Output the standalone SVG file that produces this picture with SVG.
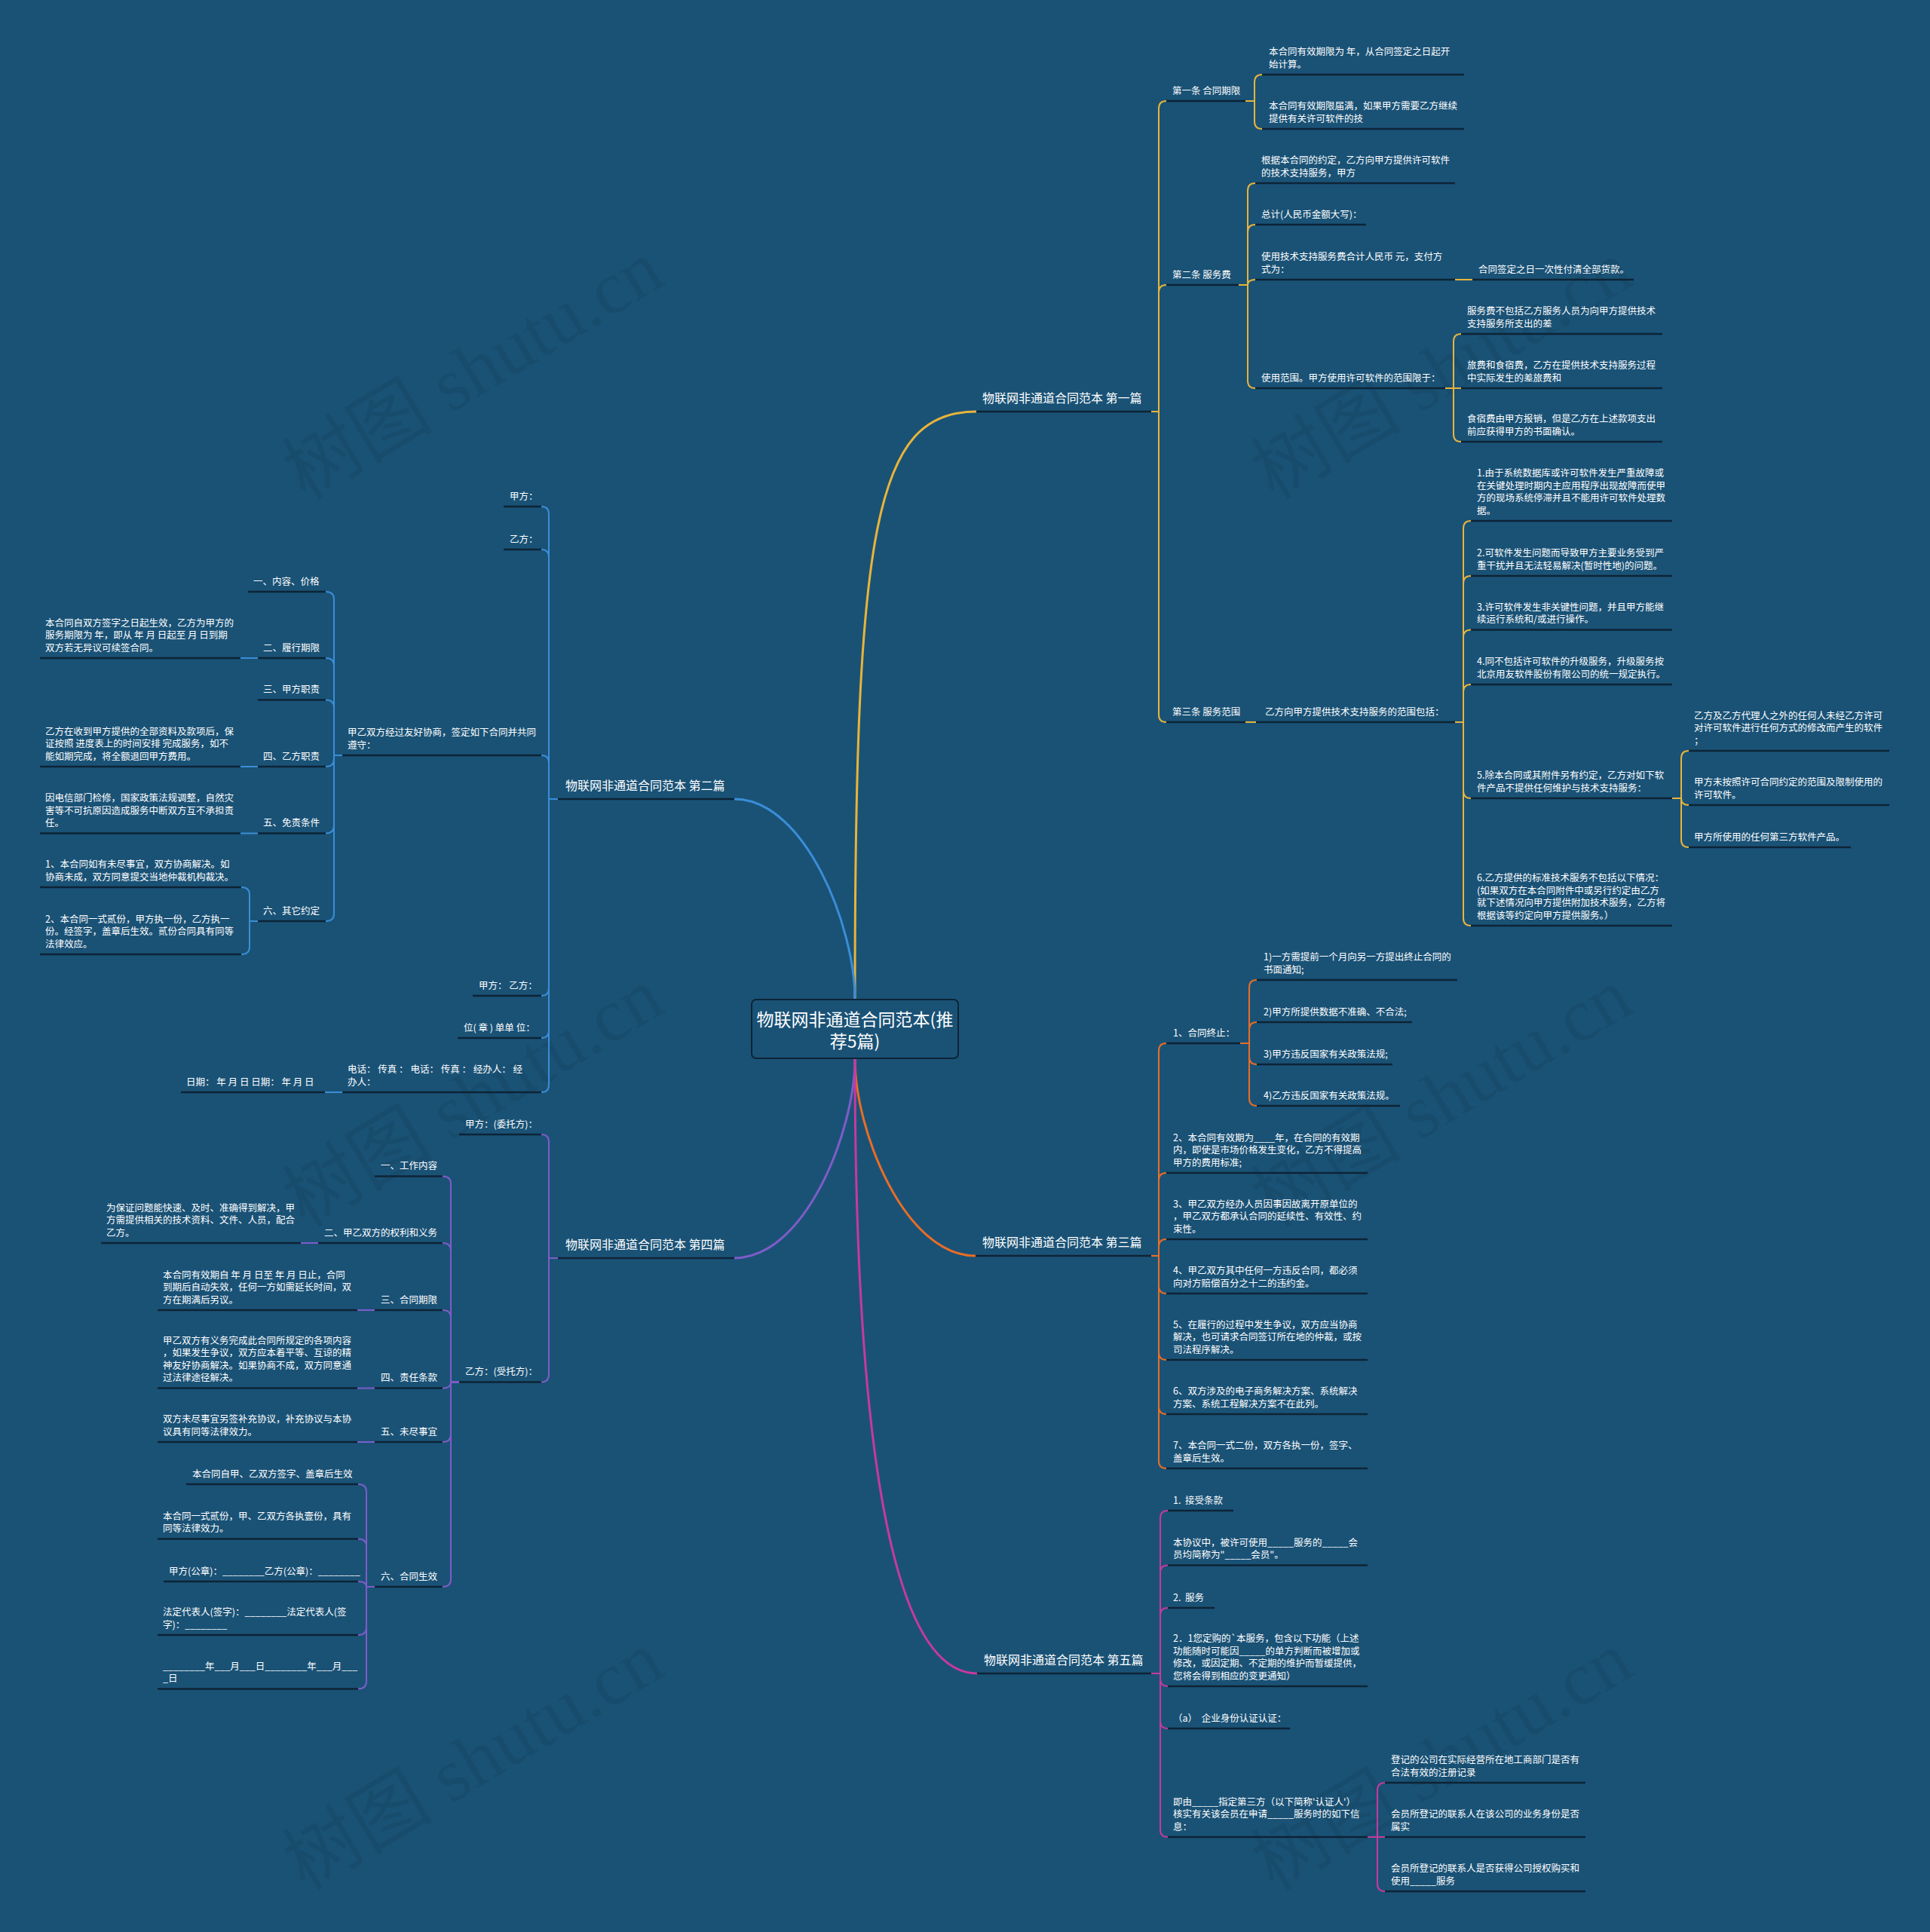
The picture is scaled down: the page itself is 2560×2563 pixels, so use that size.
<svg xmlns="http://www.w3.org/2000/svg" width="2560" height="2563" viewBox="0 0 2560 2563">
<style>
text{font-family:"Noto Sans CJK SC","Noto Sans",sans-serif;fill:#ffffff}
.n{font-size:12.5px}
.h{font-size:16px}
.c{font-size:23px}
.wm{font-family:"Liberation Serif","Noto Sans CJK SC",serif;font-size:100px;fill:#000;fill-opacity:0.07}
.u{stroke:#0d2436;stroke-width:2.5;fill:none}
.Y{stroke:#e8b43a;stroke-width:2;fill:none}
.B{stroke:#3a8ed8;stroke-width:2;fill:none}
.O{stroke:#ea6d26;stroke-width:2;fill:none}
.P{stroke:#7f5cc8;stroke-width:2;fill:none}
.M{stroke:#c8399f;stroke-width:2;fill:none}
.main{stroke-width:3}
</style>
<rect width="2560" height="2563" fill="#1a5276"/>
<g id="watermarks">
<text class="wm" text-anchor="middle" transform="translate(645,520) rotate(-31)">树图 shutu.cn</text>
<text class="wm" text-anchor="middle" transform="translate(1930,520) rotate(-31)">树图 shutu.cn</text>
<text class="wm" text-anchor="middle" transform="translate(645,1485) rotate(-31)">树图 shutu.cn</text>
<text class="wm" text-anchor="middle" transform="translate(1930,1485) rotate(-31)">树图 shutu.cn</text>
<text class="wm" text-anchor="middle" transform="translate(645,2365) rotate(-31)">树图 shutu.cn</text>
<text class="wm" text-anchor="middle" transform="translate(1930,2365) rotate(-31)">树图 shutu.cn</text>
</g>
<g id="connectors">
<path class="Y main" d="M1134,1325 C1134,700 1160,546 1295,546"/>
<path class="B main" d="M1134,1325 C1134,1230 1068,1060 974,1060"/>
<path class="O main" d="M1134,1405 C1134,1500 1200,1666 1294,1666"/>
<path class="P main" d="M1134,1405 C1134,1500 1068,1669 974,1669"/>
<path class="M main" d="M1134,1405 C1134,1900 1180,2220 1296,2220"/>
<path class="Y" d="M1527,546 H1537 V144 Q1537,134 1547,134"/>
<path class="Y" d="M1527,546 H1537 V388 Q1537,378 1547,378"/>
<path class="Y" d="M1527,546 H1537 V948 Q1537,958 1547,958"/>
<path class="Y" d="M1652,134 H1664 V109 Q1664,99 1674,99"/>
<path class="Y" d="M1652,134 H1664 V161 Q1664,171 1674,171"/>
<path class="Y" d="M1643,378 H1655 V253 Q1655,243 1665,243"/>
<path class="Y" d="M1643,378 H1655 V308 Q1655,298 1665,298"/>
<path class="Y" d="M1643,378 H1655 Q1655,371 1665,371"/>
<path class="Y" d="M1643,378 H1655 V505 Q1655,515 1665,515"/>
<path class="Y" d="M1930,371 H1953"/>
<path class="Y" d="M1917,515 H1928 V453 Q1928,443 1938,443"/>
<path class="Y" d="M1917,515 H1938"/>
<path class="Y" d="M1917,515 H1928 V576 Q1928,586 1938,586"/>
<path class="Y" d="M1652,958 H1666"/>
<path class="Y" d="M1930,958 H1941 V701 Q1941,691 1951,691"/>
<path class="Y" d="M1930,958 H1941 V774 Q1941,764 1951,764"/>
<path class="Y" d="M1930,958 H1941 V845.5 Q1941,835.5 1951,835.5"/>
<path class="Y" d="M1930,958 H1941 V918 Q1941,908 1951,908"/>
<path class="Y" d="M1930,958 H1941 V1049 Q1941,1059 1951,1059"/>
<path class="Y" d="M1930,958 H1941 V1218 Q1941,1228 1951,1228"/>
<path class="Y" d="M2218,1059 H2230 V1006 Q2230,996 2240,996"/>
<path class="Y" d="M2218,1059 H2230 Q2230,1068 2240,1068"/>
<path class="Y" d="M2218,1059 H2230 V1114 Q2230,1124 2240,1124"/>
<path class="O" d="M1527,1666 H1537 V1394 Q1537,1384 1547,1384"/>
<path class="O" d="M1527,1666 H1537 V1566 Q1537,1556 1547,1556"/>
<path class="O" d="M1527,1666 H1537 V1654 Q1537,1644 1547,1644"/>
<path class="O" d="M1527,1666 H1537 V1706 Q1537,1716 1547,1716"/>
<path class="O" d="M1527,1666 H1537 V1794 Q1537,1804 1547,1804"/>
<path class="O" d="M1527,1666 H1537 V1866 Q1537,1876 1547,1876"/>
<path class="O" d="M1527,1666 H1537 V1938 Q1537,1948 1547,1948"/>
<path class="O" d="M1645,1384 H1657 V1310 Q1657,1300 1667,1300"/>
<path class="O" d="M1645,1384 H1657 V1366 Q1657,1356 1667,1356"/>
<path class="O" d="M1645,1384 H1657 V1402 Q1657,1412 1667,1412"/>
<path class="O" d="M1645,1384 H1657 V1457 Q1657,1467 1667,1467"/>
<path class="M" d="M1527,2220 H1539 V2014 Q1539,2004 1549,2004"/>
<path class="M" d="M1527,2220 H1539 V2086.5 Q1539,2076.5 1549,2076.5"/>
<path class="M" d="M1527,2220 H1539 V2143 Q1539,2133 1549,2133"/>
<path class="M" d="M1527,2220 H1539 V2227 Q1539,2237 1549,2237"/>
<path class="M" d="M1527,2220 H1539 V2283 Q1539,2293 1549,2293"/>
<path class="M" d="M1527,2220 H1539 V2427 Q1539,2437 1549,2437"/>
<path class="M" d="M1814,2437 H1827 V2375 Q1827,2365 1837,2365"/>
<path class="M" d="M1814,2437 H1837"/>
<path class="M" d="M1814,2437 H1827 V2499 Q1827,2509 1837,2509"/>
<path class="B" d="M740,1060 H728 V682 Q728,672 718,672"/>
<path class="B" d="M740,1060 H728 V739 Q728,729 718,729"/>
<path class="B" d="M740,1060 H728 V1012 Q728,1002 718,1002"/>
<path class="B" d="M740,1060 H728 V1311 Q728,1321 718,1321"/>
<path class="B" d="M740,1060 H728 V1367 Q728,1377 718,1377"/>
<path class="B" d="M740,1060 H728 V1439 Q728,1449 718,1449"/>
<path class="B" d="M454,1002 H443 V795 Q443,785 432,785"/>
<path class="B" d="M454,1002 H443 V883 Q443,873 432,873"/>
<path class="B" d="M454,1002 H443 V938.5 Q443,928.5 432,928.5"/>
<path class="B" d="M454,1002 H443 V1007 Q443,1017 432,1017"/>
<path class="B" d="M454,1002 H443 V1095.5 Q443,1105.5 432,1105.5"/>
<path class="B" d="M454,1002 H443 V1212 Q443,1222 432,1222"/>
<path class="B" d="M342,873 H319"/>
<path class="B" d="M342,1017 H319"/>
<path class="B" d="M342,1105.5 H319"/>
<path class="B" d="M342,1222 H331 V1187 Q331,1177 320,1177"/>
<path class="B" d="M342,1222 H331 V1256 Q331,1266 320,1266"/>
<path class="B" d="M454,1449 H431"/>
<path class="P" d="M740,1669 H728 V1515 Q728,1505 718,1505"/>
<path class="P" d="M740,1669 H728 V1823.5 Q728,1833.5 718,1833.5"/>
<path class="P" d="M609,1833.5 H598 V1570.5 Q598,1560.5 587,1560.5"/>
<path class="P" d="M609,1833.5 H598 V1659 Q598,1649 587,1649"/>
<path class="P" d="M609,1833.5 H598 V1748 Q598,1738 587,1738"/>
<path class="P" d="M609,1833.5 H598 Q598,1841.6 587,1841.6"/>
<path class="P" d="M609,1833.5 H598 V1903 Q598,1913 587,1913"/>
<path class="P" d="M609,1833.5 H598 V2095 Q598,2105 587,2105"/>
<path class="P" d="M422,1649 H399"/>
<path class="P" d="M497,1738 H474"/>
<path class="P" d="M497,1841.6 H474"/>
<path class="P" d="M497,1913 H474"/>
<path class="P" d="M497,2105 H486 V1979 Q486,1969 475,1969"/>
<path class="P" d="M497,2105 H486 V2051.6 Q486,2041.6 475,2041.6"/>
<path class="P" d="M497,2105 H486 Q486,2098 475,2098"/>
<path class="P" d="M497,2105 H486 V2159 Q486,2169 475,2169"/>
<path class="P" d="M497,2105 H486 V2230.6 Q486,2240.6 475,2240.6"/>
</g>
<g id="root">
<rect x="997" y="1326" width="274" height="78" rx="6" fill="#1a5276" stroke="#0d2436" stroke-width="2"/>
<text class="c" text-anchor="middle"><tspan x="1134" y="1361">物联网非通道合同范本(推</tspan><tspan x="1134" y="1390">荐5篇)</tspan></text>
</g>
<g id="b1"><path class="u" d="M1295,546 H1527"/><text class="h" x="1303" y="534">物联网非通道合同范本 第一篇</text></g>
<g id="b1-1"><path class="u" d="M1547,134 H1652"/><text class="n" x="1555" y="124.5">第一条 合同期限</text></g>
<g id="b1-1-1"><path class="u" d="M1674,99 H1942"/><text class="n"><tspan x="1683" y="73.1">本合同有效期限为 年，从合同签定之日起开</tspan><tspan x="1683" dy="16.4">始计算。</tspan></text></g>
<g id="b1-1-2"><path class="u" d="M1674,171 H1942"/><text class="n"><tspan x="1683" y="145.1">本合同有效期限届满，如果甲方需要乙方继续</tspan><tspan x="1683" dy="16.4">提供有关许可软件的技</tspan></text></g>
<g id="b1-2"><path class="u" d="M1547,378 H1643"/><text class="n" x="1555" y="368.5">第二条 服务费</text></g>
<g id="b1-2-1"><path class="u" d="M1665,243 H1930"/><text class="n"><tspan x="1673" y="217.1">根据本合同的约定，乙方向甲方提供许可软件</tspan><tspan x="1673" dy="16.4">的技术支持服务，甲方</tspan></text></g>
<g id="b1-2-2"><path class="u" d="M1665,298 H1812"/><text class="n" x="1673" y="288.5">总计(人民币金额大写)：</text></g>
<g id="b1-2-3"><path class="u" d="M1665,371 H1930"/><text class="n"><tspan x="1673" y="345.1">使用技术支持服务费合计人民币 元，支付方</tspan><tspan x="1673" dy="16.4">式为：</tspan></text></g>
<g id="b1-2-3-1"><path class="u" d="M1953,371 H2167"/><text class="n" x="1961" y="361.5">合同签定之日一次性付清全部货款。</text></g>
<g id="b1-2-4"><path class="u" d="M1665,515 H1917"/><text class="n" x="1673" y="505.5">使用范围。甲方使用许可软件的范围限于：</text></g>
<g id="b1-2-4-1"><path class="u" d="M1938,443 H2205"/><text class="n"><tspan x="1946" y="417.1">服务费不包括乙方服务人员为向甲方提供技术</tspan><tspan x="1946" dy="16.4">支持服务所支出的差</tspan></text></g>
<g id="b1-2-4-2"><path class="u" d="M1938,515 H2205"/><text class="n"><tspan x="1946" y="489.1">旅费和食宿费，乙方在提供技术支持服务过程</tspan><tspan x="1946" dy="16.4">中实际发生的差旅费和</tspan></text></g>
<g id="b1-2-4-3"><path class="u" d="M1938,586 H2205"/><text class="n"><tspan x="1946" y="560.1">食宿费由甲方报销，但是乙方在上述款项支出</tspan><tspan x="1946" dy="16.4">前应获得甲方的书面确认。</tspan></text></g>
<g id="b1-3"><path class="u" d="M1547,958 H1652"/><text class="n" x="1555" y="948.5">第三条 服务范围</text></g>
<g id="b1-3-1"><path class="u" d="M1666,958 H1930"/><text class="n" x="1678" y="948.5">乙方向甲方提供技术支持服务的范围包括：</text></g>
<g id="b1-3-1-1"><path class="u" d="M1951,691 H2218"/><text class="n"><tspan x="1959" y="632.3">1.由于系统数据库或许可软件发生严重故障或</tspan><tspan x="1959" dy="16.4">在关键处理时期内主应用程序出现故障而使甲</tspan><tspan x="1959" dy="16.4">方的现场系统停滞并且不能用许可软件处理数</tspan><tspan x="1959" dy="16.4">据。</tspan></text></g>
<g id="b1-3-1-2"><path class="u" d="M1951,764 H2218"/><text class="n"><tspan x="1959" y="738.1">2.可软件发生问题而导致甲方主要业务受到严</tspan><tspan x="1959" dy="16.4">重干扰并且无法轻易解决(暂时性地)的问题。</tspan></text></g>
<g id="b1-3-1-3"><path class="u" d="M1951,835.5 H2218"/><text class="n"><tspan x="1959" y="809.6">3.许可软件发生非关键性问题，并且甲方能继</tspan><tspan x="1959" dy="16.4">续运行系统和/或进行操作。</tspan></text></g>
<g id="b1-3-1-4"><path class="u" d="M1951,908 H2218"/><text class="n"><tspan x="1959" y="882.1">4.同不包括许可软件的升级服务，升级服务按</tspan><tspan x="1959" dy="16.4">北京用友软件股份有限公司的统一规定执行。</tspan></text></g>
<g id="b1-3-1-5"><path class="u" d="M1951,1059 H2218"/><text class="n"><tspan x="1959" y="1033.1">5.除本合同或其附件另有约定，乙方对如下软</tspan><tspan x="1959" dy="16.4">件产品不提供任何维护与技术支持服务：</tspan></text></g>
<g id="b1-3-1-5-1"><path class="u" d="M2240,996 H2506"/><text class="n"><tspan x="2247" y="953.7">乙方及乙方代理人之外的任何人未经乙方许可</tspan><tspan x="2247" dy="16.4">对许可软件进行任何方式的修改而产生的软件</tspan><tspan x="2247" dy="16.4">；</tspan></text></g>
<g id="b1-3-1-5-2"><path class="u" d="M2240,1068 H2506"/><text class="n"><tspan x="2247" y="1042.1">甲方未按照许可合同约定的范围及限制使用的</tspan><tspan x="2247" dy="16.4">许可软件。</tspan></text></g>
<g id="b1-3-1-5-3"><path class="u" d="M2240,1124 H2455"/><text class="n" x="2247" y="1114.5">甲方所使用的任何第三方软件产品。</text></g>
<g id="b1-3-1-6"><path class="u" d="M1951,1228 H2218"/><text class="n"><tspan x="1959" y="1169.3">6.乙方提供的标准技术服务不包括以下情况：</tspan><tspan x="1959" dy="16.4">(如果双方在本合同附件中或另行约定由乙方</tspan><tspan x="1959" dy="16.4">就下述情况向甲方提供附加技术服务，乙方将</tspan><tspan x="1959" dy="16.4">根据该等约定向甲方提供服务。）</tspan></text></g>
<g id="b3"><path class="u" d="M1294,1666 H1527"/><text class="h" x="1303" y="1654">物联网非通道合同范本 第三篇</text></g>
<g id="b3-1"><path class="u" d="M1547,1384 H1645"/><text class="n" x="1556" y="1374.5">1、合同终止：</text></g>
<g id="b3-1-1"><path class="u" d="M1667,1300 H1933"/><text class="n"><tspan x="1676" y="1274.1">1)一方需提前一个月向另一方提出终止合同的</tspan><tspan x="1676" dy="16.4">书面通知;</tspan></text></g>
<g id="b3-1-2"><path class="u" d="M1667,1356 H1873"/><text class="n" x="1676" y="1346.5">2)甲方所提供数据不准确、不合法;</text></g>
<g id="b3-1-3"><path class="u" d="M1667,1412 H1847"/><text class="n" x="1676" y="1402.5">3)甲方违反国家有关政策法规;</text></g>
<g id="b3-1-4"><path class="u" d="M1667,1467 H1857"/><text class="n" x="1676" y="1457.5">4)乙方违反国家有关政策法规。</text></g>
<g id="b3-2"><path class="u" d="M1547,1556 H1814"/><text class="n"><tspan x="1556" y="1513.7">2、本合同有效期为____年，在合同的有效期</tspan><tspan x="1556" dy="16.4">内，即使是市场价格发生变化，乙方不得提高</tspan><tspan x="1556" dy="16.4">甲方的费用标准;</tspan></text></g>
<g id="b3-3"><path class="u" d="M1547,1644 H1814"/><text class="n"><tspan x="1556" y="1601.7">3、甲乙双方经办人员因事因故离开原单位的</tspan><tspan x="1556" dy="16.4">，甲乙双方都承认合同的延续性、有效性、约</tspan><tspan x="1556" dy="16.4">束性。</tspan></text></g>
<g id="b3-4"><path class="u" d="M1547,1716 H1814"/><text class="n"><tspan x="1556" y="1690.1">4、甲乙双方其中任何一方违反合同，都必须</tspan><tspan x="1556" dy="16.4">向对方赔偿百分之十二的违约金。</tspan></text></g>
<g id="b3-5"><path class="u" d="M1547,1804 H1814"/><text class="n"><tspan x="1556" y="1761.7">5、在履行的过程中发生争议，双方应当协商</tspan><tspan x="1556" dy="16.4">解决，也可请求合同签订所在地的仲裁，或按</tspan><tspan x="1556" dy="16.4">司法程序解决。</tspan></text></g>
<g id="b3-6"><path class="u" d="M1547,1876 H1814"/><text class="n"><tspan x="1556" y="1850.1">6、双方涉及的电子商务解决方案、系统解决</tspan><tspan x="1556" dy="16.4">方案、系统工程解决方案不在此列。</tspan></text></g>
<g id="b3-7"><path class="u" d="M1547,1948 H1814"/><text class="n"><tspan x="1556" y="1922.1">7、本合同一式二份，双方各执一份，签字、</tspan><tspan x="1556" dy="16.4">盖章后生效。</tspan></text></g>
<g id="b5"><path class="u" d="M1296,2220 H1527"/><text class="h" x="1305" y="2208">物联网非通道合同范本 第五篇</text></g>
<g id="b5-1"><path class="u" d="M1549,2004 H1636"/><text class="n" x="1556" y="1994.5" xml:space="preserve">1.  接受条款</text></g>
<g id="b5-2"><path class="u" d="M1549,2076.5 H1814"/><text class="n"><tspan x="1556" y="2050.6">本协议中，被许可使用_____服务的_____会</tspan><tspan x="1556" dy="16.4">员均简称为"_____会员"。</tspan></text></g>
<g id="b5-3"><path class="u" d="M1549,2133 H1611"/><text class="n" x="1556" y="2123.5" xml:space="preserve">2.  服务</text></g>
<g id="b5-4"><path class="u" d="M1549,2237 H1814"/><text class="n"><tspan x="1556" y="2178.3">2．1您定购的`本服务，包含以下功能（上述</tspan><tspan x="1556" dy="16.4">功能随时可能因_____的单方判断而被增加或</tspan><tspan x="1556" dy="16.4">修改，或因定期、不定期的维护而暂缓提供，</tspan><tspan x="1556" dy="16.4">您将会得到相应的变更通知）</tspan></text></g>
<g id="b5-5"><path class="u" d="M1549,2293 H1711"/><text class="n" x="1556" y="2283.5" xml:space="preserve">（a）  企业身份认证认证：</text></g>
<g id="b5-6"><path class="u" d="M1549,2437 H1814"/><text class="n"><tspan x="1556" y="2394.7">即由_____指定第三方（以下简称'认证人'）</tspan><tspan x="1556" dy="16.4">核实有关该会员在申请_____服务时的如下信</tspan><tspan x="1556" dy="16.4">息：</tspan></text></g>
<g id="b5-6-1"><path class="u" d="M1837,2365 H2103"/><text class="n"><tspan x="1845" y="2339.1">登记的公司在实际经营所在地工商部门是否有</tspan><tspan x="1845" dy="16.4">合法有效的注册记录</tspan></text></g>
<g id="b5-6-2"><path class="u" d="M1837,2437 H2103"/><text class="n"><tspan x="1845" y="2411.1">会员所登记的联系人在该公司的业务身份是否</tspan><tspan x="1845" dy="16.4">属实</tspan></text></g>
<g id="b5-6-3"><path class="u" d="M1837,2509 H2103"/><text class="n"><tspan x="1845" y="2483.1">会员所登记的联系人是否获得公司授权购买和</tspan><tspan x="1845" dy="16.4">使用_____服务</tspan></text></g>
<g id="b2"><path class="u" d="M740,1060 H974"/><text class="h" x="750" y="1048">物联网非通道合同范本 第二篇</text></g>
<g id="b2-1"><path class="u" d="M668,672 H718"/><text class="n" x="676" y="662.5">甲方：</text></g>
<g id="b2-2"><path class="u" d="M668,729 H718"/><text class="n" x="676" y="719.5">乙方：</text></g>
<g id="b2-3"><path class="u" d="M454,1002 H718"/><text class="n"><tspan x="461" y="976.1">甲乙双方经过友好协商，签定如下合同并共同</tspan><tspan x="461" dy="16.4">遵守：</tspan></text></g>
<g id="b2-3-1"><path class="u" d="M329,785 H432"/><text class="n" x="336" y="775.5">一、内容、价格</text></g>
<g id="b2-3-2"><path class="u" d="M342,873 H432"/><text class="n" x="349" y="863.5">二、履行期限</text></g>
<g id="b2-3-2-1"><path class="u" d="M53,873 H319"/><text class="n"><tspan x="60" y="830.7">本合同自双方签字之日起生效，乙方为甲方的</tspan><tspan x="60" dy="16.4">服务期限为 年，即从 年 月 日起至 月 日到期</tspan><tspan x="60" dy="16.4">双方若无异议可续签合同。</tspan></text></g>
<g id="b2-3-3"><path class="u" d="M342,928.5 H432"/><text class="n" x="349" y="919">三、甲方职责</text></g>
<g id="b2-3-4"><path class="u" d="M342,1017 H432"/><text class="n" x="349" y="1007.5">四、乙方职责</text></g>
<g id="b2-3-4-1"><path class="u" d="M53,1017 H319"/><text class="n"><tspan x="60" y="974.7">乙方在收到甲方提供的全部资料及款项后，保</tspan><tspan x="60" dy="16.4">证按照 进度表上的时间安排 完成服务，如不</tspan><tspan x="60" dy="16.4">能如期完成，将全额退回甲方费用。</tspan></text></g>
<g id="b2-3-5"><path class="u" d="M342,1105.5 H432"/><text class="n" x="349" y="1096">五、免责条件</text></g>
<g id="b2-3-5-1"><path class="u" d="M53,1105.5 H319"/><text class="n"><tspan x="60" y="1063.2">因电信部门检修，国家政策法规调整，自然灾</tspan><tspan x="60" dy="16.4">害等不可抗原因造成服务中断双方互不承担责</tspan><tspan x="60" dy="16.4">任。</tspan></text></g>
<g id="b2-3-6"><path class="u" d="M342,1222 H432"/><text class="n" x="349" y="1212.5">六、其它约定</text></g>
<g id="b2-3-6-1"><path class="u" d="M53,1177 H320"/><text class="n"><tspan x="60" y="1151.1">1、本合同如有未尽事宜，双方协商解决。如</tspan><tspan x="60" dy="16.4">协商未成，双方同意提交当地仲裁机构裁决。</tspan></text></g>
<g id="b2-3-6-2"><path class="u" d="M53,1266 H320"/><text class="n"><tspan x="60" y="1223.7">2、本合同一式贰份，甲方执一份，乙方执一</tspan><tspan x="60" dy="16.4">份。经签字，盖章后生效。贰份合同具有同等</tspan><tspan x="60" dy="16.4">法律效应。</tspan></text></g>
<g id="b2-4"><path class="u" d="M627,1321 H718"/><text class="n" x="635" y="1311.5">甲方： 乙方：</text></g>
<g id="b2-5"><path class="u" d="M607,1377 H718"/><text class="n" x="615" y="1367.5">位( 章 ) 单单 位：</text></g>
<g id="b2-6"><path class="u" d="M454,1449 H718"/><text class="n"><tspan x="461" y="1423.1">电话： 传真 ： 电话： 传真 ： 经办人： 经</tspan><tspan x="461" dy="16.4">办人：</tspan></text></g>
<g id="b2-6-1"><path class="u" d="M240,1449 H431"/><text class="n" x="247" y="1439.5">日期： 年 月 日 日期： 年 月 日</text></g>
<g id="b4"><path class="u" d="M740,1669 H974"/><text class="h" x="750" y="1657">物联网非通道合同范本 第四篇</text></g>
<g id="b4-1"><path class="u" d="M609,1505 H718"/><text class="n" x="617" y="1495.5">甲方：(委托方)：</text></g>
<g id="b4-2"><path class="u" d="M609,1833.5 H718"/><text class="n" x="617" y="1824">乙方：(受托方)：</text></g>
<g id="b4-2-1"><path class="u" d="M497,1560.5 H587"/><text class="n" x="505" y="1551">一、工作内容</text></g>
<g id="b4-2-2"><path class="u" d="M422,1649 H587"/><text class="n" x="430" y="1639.5">二、甲乙双方的权利和义务</text></g>
<g id="b4-2-2-1"><path class="u" d="M134,1649 H399"/><text class="n"><tspan x="141" y="1606.7">为保证问题能快速、及时、准确得到解决，甲</tspan><tspan x="141" dy="16.4">方需提供相关的技术资料、文件、人员，配合</tspan><tspan x="141" dy="16.4">乙方。</tspan></text></g>
<g id="b4-2-3"><path class="u" d="M497,1738 H587"/><text class="n" x="505" y="1728.5">三、合同期限</text></g>
<g id="b4-2-3-1"><path class="u" d="M209,1738 H474"/><text class="n"><tspan x="216" y="1695.7">本合同有效期自 年 月 日至 年 月 日止，合同</tspan><tspan x="216" dy="16.4">到期后自动失效，任何一方如需延长时间，双</tspan><tspan x="216" dy="16.4">方在期满后另议。</tspan></text></g>
<g id="b4-2-4"><path class="u" d="M497,1841.6 H587"/><text class="n" x="505" y="1832.1">四、责任条款</text></g>
<g id="b4-2-4-1"><path class="u" d="M209,1841.6 H474"/><text class="n"><tspan x="216" y="1782.9">甲乙双方有义务完成此合同所规定的各项内容</tspan><tspan x="216" dy="16.4">，如果发生争议，双方应本着平等、互谅的精</tspan><tspan x="216" dy="16.4">神友好协商解决。如果协商不成，双方同意通</tspan><tspan x="216" dy="16.4">过法律途径解决。</tspan></text></g>
<g id="b4-2-5"><path class="u" d="M497,1913 H587"/><text class="n" x="505" y="1903.5">五、未尽事宜</text></g>
<g id="b4-2-5-1"><path class="u" d="M209,1913 H474"/><text class="n"><tspan x="216" y="1887.1">双方未尽事宜另签补充协议，补充协议与本协</tspan><tspan x="216" dy="16.4">议具有同等法律效力。</tspan></text></g>
<g id="b4-2-6"><path class="u" d="M497,2105 H587"/><text class="n" x="505" y="2095.5">六、合同生效</text></g>
<g id="b4-2-6-1"><path class="u" d="M247,1969 H475"/><text class="n" x="255" y="1959.5">本合同自甲、乙双方签字、盖章后生效</text></g>
<g id="b4-2-6-2"><path class="u" d="M209,2041.6 H475"/><text class="n"><tspan x="216" y="2015.7">本合同一式贰份，甲、乙双方各执壹份，具有</tspan><tspan x="216" dy="16.4">同等法律效力。</tspan></text></g>
<g id="b4-2-6-3"><path class="u" d="M217,2098 H475"/><text class="n" x="224" y="2088.5">甲方(公章)：________乙方(公章)：________</text></g>
<g id="b4-2-6-4"><path class="u" d="M209,2169 H475"/><text class="n"><tspan x="216" y="2143.1">法定代表人(签字)：________法定代表人(签</tspan><tspan x="216" dy="16.4">字)：________</tspan></text></g>
<g id="b4-2-6-5"><path class="u" d="M209,2240.6 H475"/><text class="n"><tspan x="216" y="2214.7">________年___月___日________年___月___</tspan><tspan x="216" dy="16.4">_日</tspan></text></g>
</svg>
